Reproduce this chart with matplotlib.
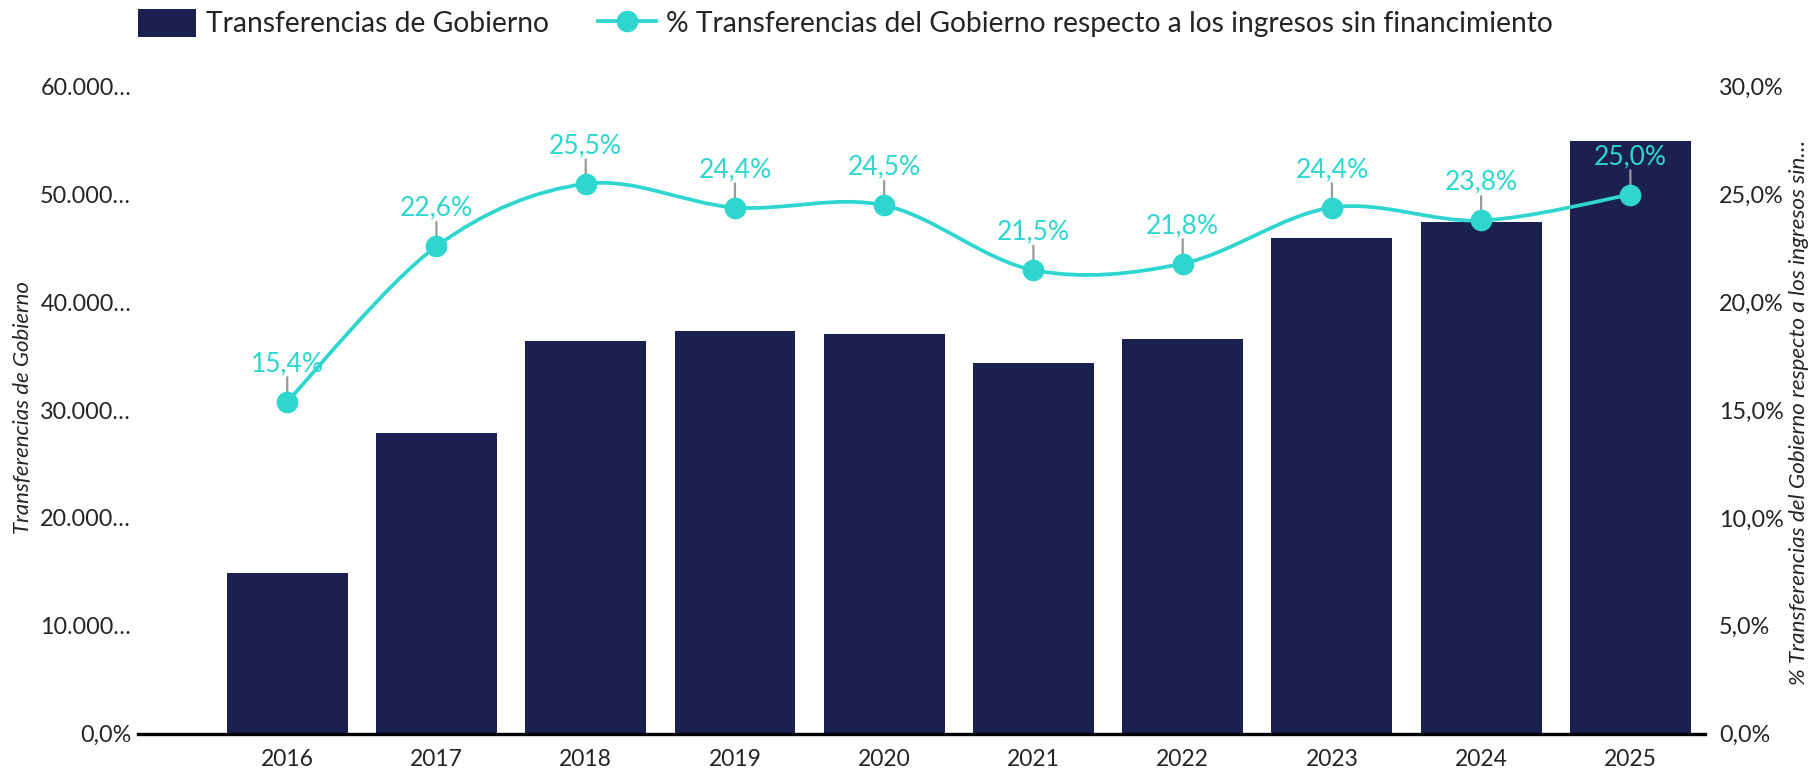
import matplotlib
matplotlib.use("Agg")
import matplotlib.pyplot as plt
import numpy as np
from matplotlib.path import Path
from matplotlib.patches import PathPatch, Patch
from matplotlib.lines import Line2D

# ---------------- data ----------------
years = ["2016", "2017", "2018", "2019", "2020", "2021", "2022", "2023", "2024", "2025"]
transferencias = [14900, 27870, 36370, 37300, 37110, 34370, 36590, 46000, 47500, 54950]
pct_transferencias = [15.4, 22.6, 25.5, 24.4, 24.5, 21.5, 21.8, 24.4, 23.8, 25.0]
left_ticks = [0, 10000, 20000, 30000, 40000, 50000, 60000]
left_tick_labels = ["0,0%", "10.000…", "20.000…", "30.000…", "40.000…", "50.000…", "60.000…"]
right_ticks = [0, 5, 10, 15, 20, 25, 30]
right_tick_labels = ["0,0%", "5,0%", "10,0%", "15,0%", "20,0%", "25,0%", "30,0%"]
bar_label = "Transferencias de Gobierno"
line_label = "% Transferencias del Gobierno respecto a los ingresos sin financimiento"
left_title = "Transferencias de Gobierno"
right_title = "% Transferencias del Gobierno respecto a los ingresos sin…"

# ---------------- style ----------------
NAVY = "#1B2050"
TEAL = "#2ED6CF"
TXT = "#252423"
GREY = "#999999"
plt.rcParams["font.family"] = ["Lato", "DejaVu Sans"]

W, H = 1814, 775
fig = plt.figure(figsize=(W / 100, H / 100), dpi=100)
L, R, B, T = 138, 1705, 733.5, 86.8
ax = fig.add_axes([L / W, 1 - B / H, (R - L) / W, (B - T) / H])

x = np.arange(len(years))
ax.bar(x, transferencias, width=0.81, color=NAVY, zorder=1)
ax.set_xlim(-1.0, 9.5)
ax.set_ylim(0, 60000)
ax.set_yticks(left_ticks)
ax.set_yticklabels(left_tick_labels)
ax.set_xticks(x)
ax.set_xticklabels(years)
ax.tick_params(axis="y", length=0, pad=5, labelsize=16.8, labelcolor=TXT)
ax.tick_params(axis="x", length=0, pad=11, labelsize=16.5, labelcolor=TXT)
for s in ["top", "left", "right"]:
    ax.spines[s].set_visible(False)
ax.spines["bottom"].set_linewidth(2.4)
ax.spines["bottom"].set_color("black")
ax.spines["bottom"].set_zorder(5)

ax2 = ax.twinx()
ax2.set_ylim(0, 30)
ax2.set_yticks(right_ticks)
ax2.set_yticklabels(right_tick_labels)
ax2.tick_params(axis="y", length=0, pad=10, labelsize=16.8, labelcolor=TXT)
for s in ["top", "left", "right", "bottom"]:
    ax2.spines[s].set_visible(False)

# smooth (Catmull-Rom) curve through the data points
pts = np.column_stack([x, pct_transferencias]).astype(float)
n = len(pts)
verts = [pts[0]]
codes = [Path.MOVETO]
for i in range(n - 1):
    p0 = pts[i - 1] if i > 0 else pts[i]
    p1 = pts[i]
    p2 = pts[i + 1]
    p3 = pts[i + 2] if i + 2 < n else pts[i + 1]
    verts += [p1 + (p2 - p0) / 6, p2 - (p3 - p1) / 6, p2]
    codes += [Path.CURVE4] * 3
ax2.add_patch(PathPatch(Path(verts, codes), fill=False, edgecolor=TEAL, lw=2.7,
                        zorder=3, capstyle="round", joinstyle="round"))
ax2.plot(x, pct_transferencias, linestyle="none", marker="o", ms=14.6,
         color=TEAL, zorder=4)

for xi, v in zip(x, pct_transferencias):
    ax2.annotate("", xy=(xi, v), xycoords="data", xytext=(0, 17.5),
                 textcoords="offset points",
                 arrowprops=dict(arrowstyle="-", color=GREY, lw=1.6,
                                 shrinkA=0, shrinkB=5.5), zorder=2)
    ax2.annotate(f"{v:.1f}%".replace(".", ","), xy=(xi, v), xycoords="data",
                 xytext=(0, 27.5), textcoords="offset points", ha="center",
                 va="center", color=TEAL, fontsize=19, zorder=6)

fig.text(23 / W, 1 - 408 / H, left_title, rotation=90, ha="center", va="center",
         fontsize=16, style="italic", color=TXT)
fig.text(1799 / W, 1 - 412 / H, right_title, rotation=90, ha="center", va="center",
         fontsize=16.2, style="italic", color=TXT)

handles = [Patch(facecolor=NAVY, edgecolor="none"),
           Line2D([], [], color=TEAL, lw=2.7, marker="o", ms=14.6)]
fig.legend(handles, [bar_label, line_label], loc="center left",
           bbox_to_anchor=(138 / W, 1 - 23 / H), ncol=2, frameon=False,
           fontsize=20.3, borderaxespad=0, borderpad=0, handlelength=2.05,
           handleheight=1.16, handletextpad=0.36, columnspacing=1.75,
           labelcolor=TXT)

fig.savefig("out.png", dpi=100)
